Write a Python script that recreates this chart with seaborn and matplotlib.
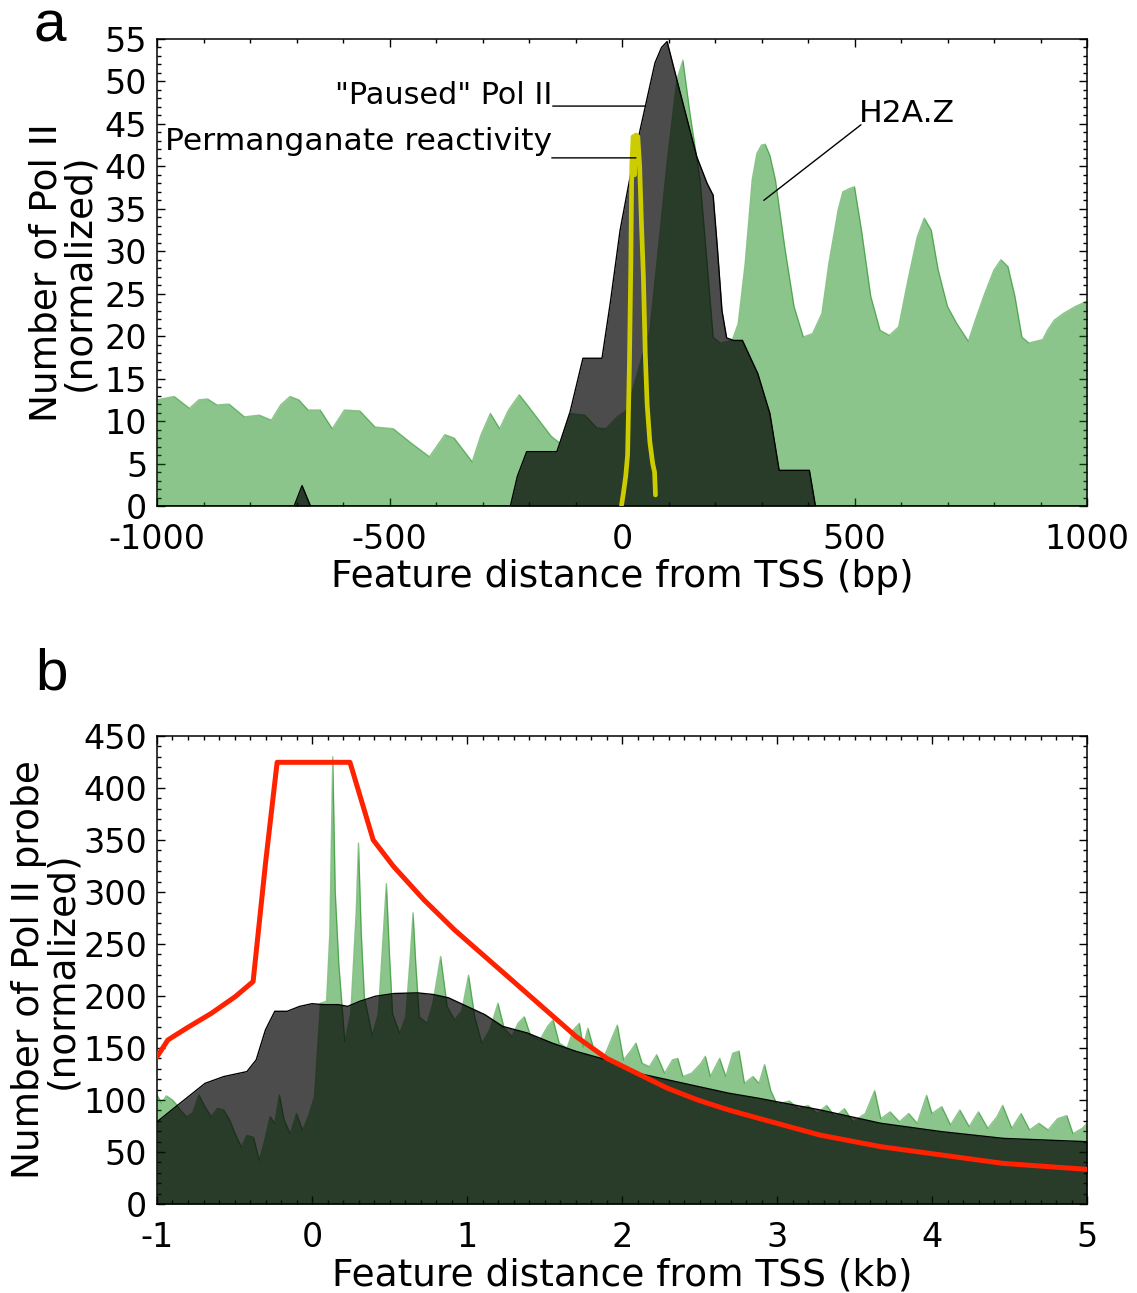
import matplotlib
matplotlib.use("Agg")
import matplotlib.pyplot as plt
import seaborn as sns
from matplotlib.ticker import MultipleLocator

# ---------------- Panel a data (bp) ----------------
h2az_a_x = [-1000, -963, -930, -910, -891, -871, -845, -812, -780, -754, -734, -714, -695, -675,
            -649, -623, -597, -564, -531, -492, -453, -414, -381, -361, -322, -303, -283, -263,
            -244, -221, -205, -152, -133, -113, -80, -54, -35, -10, 11, 39, 60, 75, 97, 118, 131,
            146, 168, 183, 196, 211, 237, 250, 265, 280, 290, 300, 308, 318, 330, 350, 370, 390, 410, 430,
            445, 465, 475, 490, 500, 515, 535, 555, 575, 595, 615, 635, 650, 665, 680, 700, 720,
            745, 760, 780, 800, 815, 830, 845, 860, 875, 890, 905, 915, 930, 950, 975, 1000]
h2az_a_y = [12.5, 12.9, 11.5, 12.5, 12.6, 11.9, 12.0, 10.5, 10.7, 10.1, 11.9, 12.9, 12.5, 11.3,
            11.3, 9.1, 11.3, 11.2, 9.3, 9.1, 7.4, 5.8, 8.4, 8.0, 5.2, 8.4, 10.9, 9.1,
            11.3, 13.1, 12.0, 8.2, 7.4, 10.9, 10.7, 9.2, 9.1, 10.5, 11.3, 16.8, 20.7, 28.6, 40.4, 50.2, 52.5,
            46.3, 38.4, 28.6, 19.9, 19.2, 19.5, 21.5, 28.6, 38.4, 41.5, 42.5, 42.6, 41.3, 38.4, 30.5, 23.5, 19.9, 20.3, 22.7,
            28.6, 34.9, 37.0, 37.4, 37.6, 32.5, 24.7, 20.7, 20.1, 21.1, 26.6, 31.7, 33.9, 32.5, 27.8, 23.5, 21.5,
            19.4, 21.9, 25.0, 27.8, 29.0, 28.2, 24.7, 19.9, 19.2, 19.4, 19.6, 20.7, 21.9, 22.7, 23.5, 24.1]

pol_a_x = [-1000, -705, -688, -670, -240, -225, -205, -140, -112, -84, -43, -25, -4, 20, 39, 71, 85, 97,
           118, 161, 183, 196, 205, 215, 225, 240, 259, 292, 318, 338, 403, 416, 1000]
pol_a_y = [0, 0, 2.4, 0, 0, 3.5, 6.4, 6.4, 11.0, 17.4, 17.4, 24.0, 32.5, 39.5, 44.3, 52.2, 54.0, 54.7,
           50.2, 41.1, 38.0, 36.6, 30.5, 23.0, 19.8, 19.5, 19.5, 15.6, 10.9, 4.2, 4.2, 0, 0]

kmno4_x = [-1, 3, 8, 12, 16, 19, 21, 24, 27, 30, 34, 38, 42, 46, 50, 54, 60, 66, 70, 72]
kmno4_y = [0.1, 1.5, 3.5, 6.0, 16.8, 28.6, 40.0, 43.5, 39.0, 43.7, 43.5, 40.0, 33.0, 27.0, 18.0, 12.0, 7.5, 5.0, 4.0, 1.3]

# ---------------- Panel b data (kb) ----------------
pol_b_x = [-1.0, -0.85, -0.69, -0.57, -0.42, -0.36, -0.30, -0.24, -0.16, -0.08, 0.0, 0.075, 0.17, 0.23,
           0.31, 0.41, 0.53, 0.68, 0.78, 0.88, 1.0, 1.116, 1.23, 1.39, 1.55, 1.705, 1.90, 2.10, 2.295,
           2.49, 2.69, 2.88, 3.28, 3.67, 4.06, 4.46, 5.0]
pol_b_y = [79, 97, 116, 122.5, 127.3, 138.6, 167.5, 185.3, 185.3, 190, 192.6, 191.7, 191.7, 190,
           195, 199.8, 202.4, 203, 201.5, 198.3, 190, 182, 170.8, 164.4, 154.7, 146.7, 138.6, 125.8, 119.4,
           113, 106.5, 101.7, 90.4, 77.6, 69.6, 63.1, 59.9]

h2az_b_x = [-1.0, -0.97, -0.94, -0.90, -0.87, -0.85, -0.81, -0.77, -0.73, -0.69, -0.65, -0.61, -0.57,
            -0.535, -0.495, -0.455, -0.42, -0.377, -0.34, -0.31, -0.27, -0.24, -0.21, -0.18, -0.14,
            -0.10, -0.06, -0.024, 0.016, 0.055, 0.094, 0.115, 0.134, 0.15, 0.173, 0.212, 0.25, 0.285,
            0.30, 0.318, 0.338, 0.389, 0.428, 0.46, 0.48, 0.50, 0.52, 0.566, 0.605, 0.635, 0.652, 0.67,
            0.692, 0.743, 0.78, 0.83, 0.872, 0.92, 0.967, 1.01, 1.05, 1.096, 1.147, 1.20, 1.24, 1.29,
            1.33, 1.37, 1.41, 1.47, 1.52, 1.556, 1.595, 1.646, 1.686, 1.725, 1.75, 1.78, 1.82, 1.88,
            1.93, 1.97, 2.01, 2.06, 2.09, 2.13, 2.177, 2.224, 2.275, 2.326, 2.36, 2.393, 2.45, 2.51,
            2.538, 2.57, 2.63, 2.67, 2.715, 2.755, 2.79, 2.845, 2.884, 2.92, 2.96, 3.0, 3.08, 3.14,
            3.2, 3.26, 3.32, 3.375, 3.435, 3.49, 3.57, 3.63, 3.67, 3.73, 3.79, 3.85, 3.905, 3.965,
            4.0, 4.063, 4.12, 4.18, 4.24, 4.3, 4.36, 4.42, 4.456, 4.515, 4.575, 4.63, 4.69, 4.75,
            4.81, 4.87, 4.91, 4.97, 5.0]
h2az_b_y = [105, 97, 104, 100, 95, 90.5, 84, 87.4, 105, 93.6, 84, 92, 90.5,
            82, 67.5, 54.7, 66, 64, 42, 58, 84, 77.6, 105, 81, 67.6,
            87, 71, 84, 103, 193, 195, 260, 430, 300, 231, 156, 183, 280,
            347, 260, 199, 162, 183, 260, 308, 240, 183, 164, 180, 240, 280, 230,
            180, 173.7, 193, 238, 190, 177, 186, 220, 180, 154.7, 167.5, 193, 169, 161,
            174, 180, 162, 157.7, 170.8, 177, 154.7, 150, 167.5, 173.7, 151, 169, 148, 140,
            157.7, 172, 138.6, 148, 154.7, 135.4, 132, 143.5, 125.8, 138.6, 140, 122.6, 125.8, 135.4,
            142, 122.6, 140, 122.6, 145, 147, 116, 122.6, 116, 134, 109, 96, 99, 91.6,
            94.8, 87, 94.8, 84, 91.6, 79, 87, 109, 82, 88.6, 79, 87, 77.6, 104.5,
            87, 93.6, 76, 90.4, 74.4, 88.6, 72.8, 84, 94.8, 72.8, 87, 71.2, 77.6, 71.2,
            82, 85, 67.6, 72.8, 77.6]

model_x = [-1.0, -0.93, -0.81, -0.65, -0.495, -0.38, -0.30, -0.225, 0.245, 0.395, 0.527, 0.723,
           0.92, 1.116, 1.313, 1.509, 1.705, 1.902, 2.098, 2.295, 2.491, 2.688, 2.884, 3.277, 3.67,
           4.063, 4.456, 5.0]
model_y = [141.6, 157.7, 169, 183.3, 199.4, 213.9, 327.6, 424.7, 424.7, 350, 324.4, 292.3,
           263.5, 237.9, 212.2, 186.5, 160.9, 140, 125.6, 111.2, 99.9, 90.4, 82.3, 66.3, 55.1,
           47.1, 39.1, 33.3]

# ---------------- Style ----------------
sns.set_style("ticks")
plt.rcParams["font.family"] = ["DejaVu Sans"]
plt.rcParams["axes.unicode_minus"] = False
plt.rcParams["axes.linewidth"] = 1.1
plt.rcParams["text.color"] = "black"
plt.rcParams["axes.labelcolor"] = "black"
plt.rcParams["xtick.color"] = "black"
plt.rcParams["ytick.color"] = "black"
plt.rcParams["xtick.labelcolor"] = "black"
plt.rcParams["ytick.labelcolor"] = "black"

GREEN = "#008000"

fig = plt.figure(figsize=(11.37, 12.93), dpi=100)
axa = fig.add_axes([157 / 1137, 1 - 506 / 1293, 930 / 1137, 467 / 1293])
axb = fig.add_axes([157 / 1137, 1 - 1204 / 1293, 930 / 1137, 468 / 1293])


def style_axes(ax, xmaj, xmin, ymaj, ymin):
    ax.xaxis.set_major_locator(MultipleLocator(xmaj))
    ax.xaxis.set_minor_locator(MultipleLocator(xmin))
    ax.yaxis.set_major_locator(MultipleLocator(ymaj))
    ax.yaxis.set_minor_locator(MultipleLocator(ymin))
    ax.tick_params(which="both", direction="in", top=True, right=True, color="black", width=1)
    ax.tick_params(which="major", length=5.5)
    ax.tick_params(which="minor", length=2.8)
    ax.tick_params(axis="x", which="major", labelsize=24, pad=12.5, labelcolor="black")
    ax.tick_params(axis="y", which="major", labelsize=24, pad=7, labelcolor="black")
    for s in ax.spines.values():
        s.set_visible(True)
        s.set_color("black")
        s.set_linewidth(1.1)


# ---------------- Panel a ----------------
axa.fill_between(h2az_a_x, h2az_a_y, 0, facecolor=GREEN, alpha=0.45, linewidth=0, zorder=1)
sns.lineplot(x=h2az_a_x, y=h2az_a_y, ax=axa, color=GREEN, alpha=0.45, lw=1.0, sort=False,
             estimator=None, zorder=1.5)
axa.fill_between(pol_a_x, pol_a_y, 0, facecolor="black", alpha=0.7, linewidth=0, zorder=2)
sns.lineplot(x=pol_a_x, y=pol_a_y, ax=axa, color="black", lw=1.0, sort=False, estimator=None,
             zorder=2.5)
sns.lineplot(x=kmno4_x, y=kmno4_y, ax=axa, color="#cccc00", lw=3.4, sort=False, estimator=None,
             zorder=3)

axa.set_xlim(-1000, 1000)
axa.set_ylim(0, 55)
style_axes(axa, 500, 100, 5, 1)
axa.set_xlabel("Feature distance from TSS (bp)", fontsize=27, color="black")
axa.set_ylabel("Number of Pol II\n(normalized)", fontsize=27, linespacing=0.9, color="black")
axa.xaxis.set_label_coords(0.5, -0.114)
axa.yaxis.set_label_coords(-0.064, 0.5)

ann_kw = dict(arrowstyle="-", color="black", lw=1.0, shrinkA=0, shrinkB=0)
axa.text(-150, 47.3, '"Paused" Pol II', fontsize=21.8, ha="right", va="baseline", zorder=5)
axa.annotate("", xy=(49.5, 47.1), xytext=(-149, 47.1), arrowprops=ann_kw, zorder=5)
axa.text(-150, 41.9, "Permanganate reactivity", fontsize=22.6, ha="right", va="baseline", zorder=5)
axa.annotate("", xy=(30, 41.0), xytext=(-151, 41.0), arrowprops=ann_kw, zorder=5)
axa.text(510, 45.2, "H2A.Z", fontsize=22.6, ha="left", va="baseline", zorder=5)
axa.annotate("", xy=(305, 36.0), xytext=(514, 44.9), arrowprops=ann_kw, zorder=5)

# ---------------- Panel b ----------------
axb.fill_between(h2az_b_x, h2az_b_y, 0, facecolor=GREEN, alpha=0.45, linewidth=0, zorder=1)
sns.lineplot(x=h2az_b_x, y=h2az_b_y, ax=axb, color=GREEN, alpha=0.45, lw=1.0, sort=False,
             estimator=None, zorder=1.5)
axb.fill_between(pol_b_x, pol_b_y, 0, facecolor="black", alpha=0.7, linewidth=0, zorder=2)
sns.lineplot(x=pol_b_x, y=pol_b_y, ax=axb, color="black", lw=1.0, sort=False, estimator=None,
             zorder=2.5)
sns.lineplot(x=model_x, y=model_y, ax=axb, color="#ff2200", lw=3.6, sort=False, estimator=None,
             zorder=3)

axb.set_xlim(-1, 5)
axb.set_ylim(0, 450)
style_axes(axb, 1, 0.1, 50, 10)
axb.set_xlabel("Feature distance from TSS (kb)", fontsize=27, color="black")
axb.set_ylabel("Number of Pol II probe\n(normalized)", fontsize=27, linespacing=0.9, color="black")
axb.xaxis.set_label_coords(0.5, -0.114)
axb.yaxis.set_label_coords(-0.083, 0.5)

# Panel letters
fig.text(33 / 1137, 1 - 41 / 1293, "a", fontsize=42, family=["Liberation Sans", "DejaVu Sans"],
         ha="left", va="baseline", color="black")
fig.text(35 / 1137, 1 - 689 / 1293, "b", fontsize=42, family=["Liberation Sans", "DejaVu Sans"],
         ha="left", va="baseline", color="black")

fig.savefig("out.png", dpi=100, facecolor="white")
